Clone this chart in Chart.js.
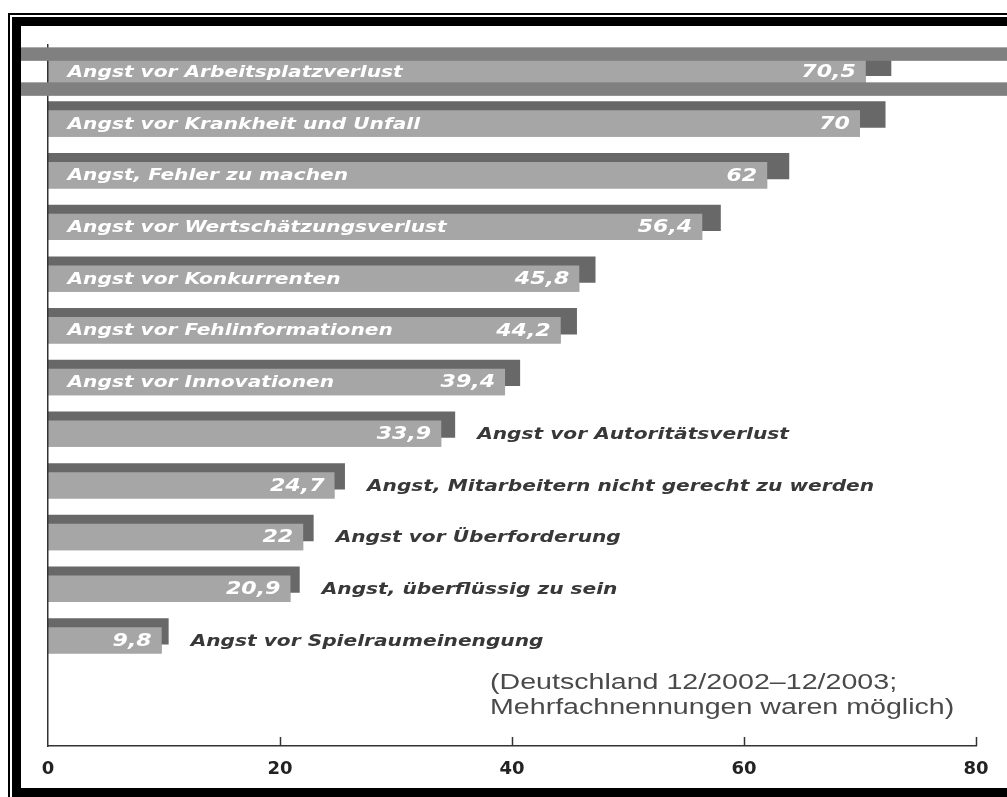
<!DOCTYPE html>
<html><head><meta charset="utf-8">
<script src="https://cdn.jsdelivr.net/npm/chart.js@4.4.1/dist/chart.umd.min.js"></script>
<style>
html,body{margin:0;padding:0;background:#fff;}
#wrap{position:relative;width:1007px;height:797px;overflow:hidden;background:#fff;}
canvas{position:absolute;left:0;top:0;}
.b{position:absolute;background:#000;}
</style></head><body>
<div id="wrap">
<canvas id="c" width="1007" height="797"></canvas>
<div class="b" style="left:8px;top:13px;width:999px;height:2px"></div>
<div class="b" style="left:8px;top:13px;width:2px;height:784px"></div>
<div class="b" style="left:12px;top:17px;width:995px;height:9px"></div>
<div class="b" style="left:12px;top:17px;width:9px;height:780px"></div>
<div class="b" style="left:12px;top:788px;width:995px;height:9px"></div>
</div>
<script>
const categories = [
  "Angst vor Arbeitsplatzverlust",
  "Angst vor Krankheit und Unfall",
  "Angst, Fehler zu machen",
  "Angst vor Wertschätzungsverlust",
  "Angst vor Konkurrenten",
  "Angst vor Fehlinformationen",
  "Angst vor Innovationen",
  "Angst vor Autoritätsverlust",
  "Angst, Mitarbeitern nicht gerecht zu werden",
  "Angst vor Überforderung",
  "Angst, überflüssig zu sein",
  "Angst vor Spielraumeinengung"
];
const values = [70.5, 70, 62, 56.4, 45.8, 44.2, 39.4, 33.9, 24.7, 22, 20.9, 9.8];
const shadowValues = [72.7, 72.2, 63.9, 58.0, 47.2, 45.6, 40.7, 35.1, 25.6, 22.9, 21.7, 10.4];
const tickValues = [0, 20, 40, 60, 80];
const noteLines = ["(Deutschland 12/2002\u201312/2003;", "Mehrfachnennungen waren möglich)"];

const STRETCH_LABEL = 1.26;
const STRETCH_VALUE = 1.3;
const STRETCH_NOTE = 1.3;
const FONT_LABEL = 'italic bold 16px "DejaVu Sans"';
const FONT_VALUE = 'italic bold 17px "DejaVu Sans"';
const FONT_NOTE = '22px "Liberation Sans"';

function fmt(v) { return String(v).replace('.', ','); }
function stretchText(ctx, text, x, y, align, stretch) {
  ctx.save();
  ctx.translate(x, y);
  ctx.scale(stretch, 1);
  ctx.textAlign = align;
  ctx.fillText(text, 0, 0);
  ctx.restore();
}

const overlay = {
  id: 'overlay',
  afterDatasetsDraw(chart) {
    const ctx = chart.ctx;
    const xs = chart.scales.x;
    const shadowMeta = chart.getDatasetMeta(0);
    const barMeta = chart.getDatasetMeta(1);
    // light bars in front of their shadow bars
    barMeta.controller.draw();
    const x0 = xs.getPixelForValue(0);
    ctx.save();
    ctx.textBaseline = 'middle';
    barMeta.data.forEach((el, i) => {
      const valTxt = fmt(values[i]);
      ctx.font = FONT_VALUE;
      const valW = ctx.measureText(valTxt).width * STRETCH_VALUE;
      ctx.font = FONT_LABEL;
      const labW = ctx.measureText(categories[i]).width * STRETCH_LABEL;
      const barW = el.x - x0;
      const inside = 19 + labW + 20 + valW + 10 <= barW;
      ctx.fillStyle = '#ffffff';
      ctx.font = FONT_VALUE;
      stretchText(ctx, valTxt, el.x - 10, el.y + 1, 'right', STRETCH_VALUE);
      ctx.font = FONT_LABEL;
      if (inside) {
        ctx.fillStyle = '#ffffff';
        stretchText(ctx, categories[i], x0 + 19.5, el.y + 1, 'left', STRETCH_LABEL);
      } else {
        ctx.fillStyle = '#383838';
        stretchText(ctx, categories[i], shadowMeta.data[i].x + 22, el.y + 1, 'left', STRETCH_LABEL);
      }
    });
    ctx.restore();
  },
  afterDraw(chart) {
    const ctx = chart.ctx;
    const xs = chart.scales.x;
    const area = chart.chartArea;
    ctx.save();
    // upward tick marks on the value axis
    ctx.strokeStyle = '#333';
    ctx.lineWidth = 1.5;
    xs.ticks.forEach(t => {
      if (t.value === xs.min) return;
      const px = Math.round(xs.getPixelForValue(t.value)) + 0.5;
      ctx.beginPath();
      ctx.moveTo(px, area.bottom);
      ctx.lineTo(px, area.bottom - 9);
      ctx.stroke();
    });
    // highlight bands framing the first row
    const el = chart.getDatasetMeta(1).data[0];
    ctx.fillStyle = '#808080';
    ctx.fillRect(21, el.y - 24.5, chart.width - 21, 13.5);
    ctx.fillRect(21, el.y + 10.5, chart.width - 21, 13.5);
    // note
    ctx.fillStyle = '#4a4a4a';
    ctx.font = FONT_NOTE;
    ctx.textBaseline = 'alphabetic';
    stretchText(ctx, noteLines[0], 490, 689, 'left', STRETCH_NOTE);
    stretchText(ctx, noteLines[1], 490, 714, 'left', STRETCH_NOTE);
    ctx.restore();
  }
};

const barOpts = { categoryPercentage: 0.349, barPercentage: 2.92, borderWidth: 0 };

new Chart(document.getElementById('c'), {
  type: 'bar',
  data: {
    datasets: [
      Object.assign({ label: 'Schatten', data: shadowValues.map((v, i) => ({ x: v, y: i })), backgroundColor: '#686868' }, barOpts),
      Object.assign({ label: 'Prozent', data: values.map((v, i) => ({ x: v, y: i })), backgroundColor: '#a6a6a6' }, barOpts)
    ]
  },
  options: {
    indexAxis: 'y',
    responsive: false,
    animation: false,
    devicePixelRatio: 1,
    layout: { padding: { left: 48, right: 31, top: 45, bottom: 3.4 } },
    plugins: { legend: { display: false }, tooltip: { enabled: false } },
    scales: {
      x: {
        type: 'linear', min: 0, max: 80, position: 'bottom',
        afterBuildTicks: s => { s.ticks = tickValues.map(v => ({ value: v })); },
        grid: { display: false, drawTicks: false },
        border: { display: true, color: '#333', width: 1.5 },
        ticks: { padding: 13, color: '#222', font: { family: 'DejaVu Sans', weight: 'bold', size: 18 }, maxRotation: 0, autoSkip: false }
      },
      y: {
        type: 'linear', min: -0.432, max: 13.13, reverse: true, offset: false, bounds: 'data', grace: 0,
        afterBuildTicks: s => { s.ticks = categories.map((c, i) => ({ value: i })); },
        grid: { display: false, drawTicks: false, offset: false },
        border: { display: true, color: '#333', width: 1.5, z: 1 },
        ticks: { display: false }
      }
    }
  },
  plugins: [overlay]
});
</script>
</body></html>
